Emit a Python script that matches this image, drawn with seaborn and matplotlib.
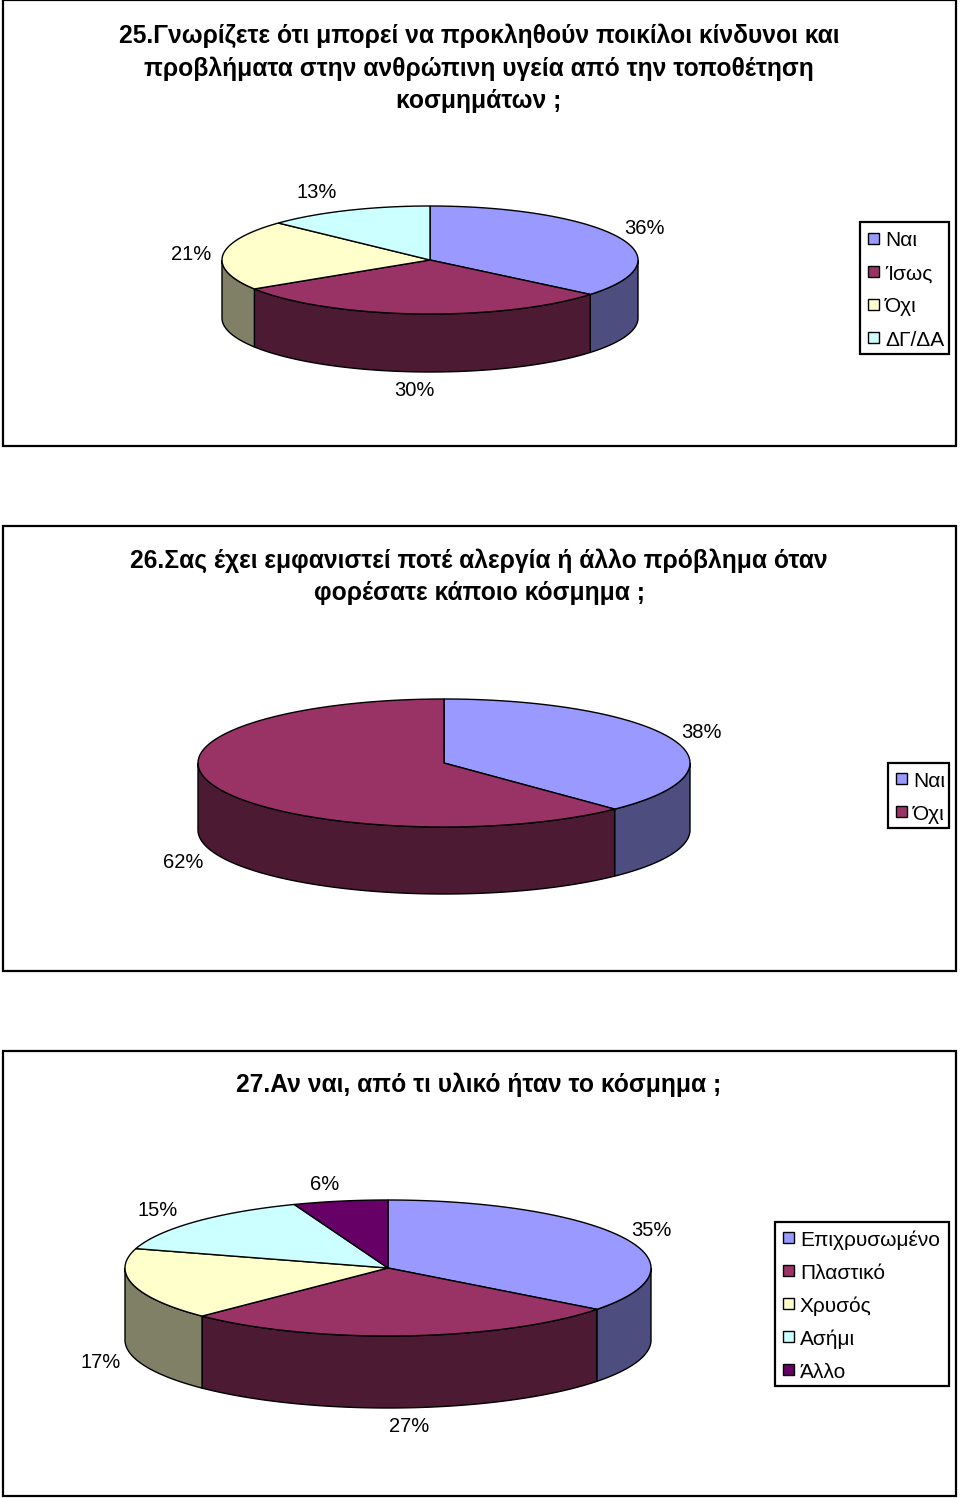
import numpy as np
import matplotlib.pyplot as plt
from matplotlib.patches import Rectangle
import seaborn as sns

sns.set_theme(style="white")
plt.rcParams['font.family'] = ['Liberation Sans', 'DejaVu Sans']

# --- dados ---
titulo_25 = "25.Γνωρίζετε ότι μπορεί να προκληθούν ποικίλοι κίνδυνοι και\nπροβλήματα στην ανθρώπινη υγεία από την τοποθέτηση\nκοσμημάτων ;"
labels_25 = ["Ναι", "Ίσως", "Όχι", "ΔΓ/ΔΑ"]
valores_25 = [36, 30, 21, 13]

titulo_26 = "26.Σας έχει εμφανιστεί ποτέ αλεργία ή άλλο πρόβλημα όταν\nφορέσατε κάποιο κόσμημα ;"
labels_26 = ["Ναι", "Όχι"]
valores_26 = [37.8, 62.2]

titulo_27 = "27.Αν ναι, από τι υλικό ήταν το κόσμημα ;"
labels_27 = ["Επιχρυσωμένο", "Πλαστικό", "Χρυσός", "Ασήμι", "Άλλο"]
valores_27 = [35.4, 27.1, 17.1, 14.6, 5.8]

cores = sns.color_palette(["#9999FF", "#993366", "#FFFFCC", "#CCFFFF", "#660066"])
cores_lado = [tuple(v * 0.5 for v in c) for c in cores]

W, H = 960, 1498
fig = plt.figure(figsize=(W / 100, H / 100), dpi=100)
ax = fig.add_axes([0, 0, 1, 1])
ax.set_xlim(0, W)
ax.set_ylim(H, 0)
ax.axis("off")


def elipse(cx, cy, rx, ry, a0, a1):
    # angulo 0 = 12 horas, sentido horario
    t = np.radians(np.linspace(a0, a1, max(3, int(abs(a1 - a0) * 2))))
    return cx + rx * np.sin(t), cy - ry * np.cos(t)


def pizza(valores, cx, cy, rx, ry, prof, pos_rotulos):
    limites = np.concatenate([[0], np.cumsum(valores)]) * 360 / sum(valores)
    # paredes laterais, so a metade da frente aparece
    for i in range(len(valores)):
        a0, a1 = max(limites[i], 90), min(limites[i + 1], 270)
        if a0 >= a1:
            continue
        x, y = elipse(cx, cy, rx, ry, a0, a1)
        xs = np.concatenate([x, x[::-1]])
        ys = np.concatenate([y, y[::-1] + prof])
        ax.fill(xs, ys, color=cores_lado[i], ec="black", lw=1, zorder=2)
    # tampo
    for i in range(len(valores)):
        x, y = elipse(cx, cy, rx, ry, limites[i], limites[i + 1])
        ax.fill(np.r_[cx, x], np.r_[cy, y], fc=cores[i], ec="black", lw=1, zorder=3)
    for v, (px, py) in zip(valores, pos_rotulos):
        ax.text(px, py, f"{v:.0f}%", ha="center", va="center", fontsize=14.5, color="black")


def legenda(labels, x0, y0, w, h, passo):
    ax.add_patch(Rectangle((x0, y0), w, h, fc="white", ec="black", lw=1.6, zorder=2))
    for i, lab in enumerate(labels):
        yc = y0 + passo * (i + 0.5) + (h - passo * len(labels)) / 2
        ax.add_patch(Rectangle((x0 + 8, yc - 6), 11, 11, fc=cores[i], ec="black", lw=1, zorder=3))
        ax.text(x0 + 25, yc + 2.5, lab, ha="left", va="center", fontsize=15, color="black", zorder=3)


def painel(y0, y1, titulo, y_titulo):
    ax.add_patch(Rectangle((3, y0), 953, y1 - y0, fc="white", ec="black", lw=1.6, zorder=1))
    ax.text(479, y_titulo, titulo, ha="center", va="center", fontsize=17.75, fontweight="bold",
            linespacing=1.42, color="black", zorder=3)


# --- 25 ---
painel(0, 446, titulo_25, 68)
pizza(valores_25, 430, 260, 208, 54, 58,
      [(644, 228), (414, 390), (191, 254), (317, 192)])
legenda(labels_25, 860, 222, 89, 132, 33)

# --- 26 ---
painel(526, 971, titulo_26, 577)
pizza(valores_26, 444, 763, 246, 64, 67, [(701, 733), (183, 862)])
legenda(labels_26, 888, 763, 61, 65, 33)

# --- 27 ---
painel(1051, 1496, titulo_27, 1085)
pizza(valores_27, 388, 1268, 263, 68, 72,
      [(651, 1230), (409, 1427), (101, 1363), (158, 1210), (325, 1184)])
legenda(labels_27, 775, 1222, 174, 164, 33)

fig.savefig("out.png", dpi=100, facecolor="white")
